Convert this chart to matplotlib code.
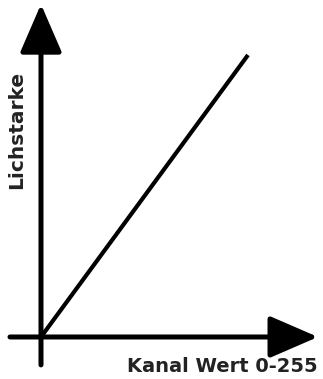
import matplotlib
matplotlib.use("Agg")
import matplotlib.pyplot as plt

# Kanal-Wert (0-255) gegen Lichtstaerke (%)
kanal = [0, 255]
lichtstaerke = [0, 100]

x_label = "Kanal Wert 0-255"
y_label = "Lichstarke"

fig = plt.figure(figsize=(3.23, 3.79), dpi=100)
ax = fig.add_axes([0, 0, 1, 1])
ax.set_xlim(-50.5, 347.4)
ax.set_ylim(-14.9, 119.5)
ax.axis("off")

# Achsenpfeile
pfeil = dict(arrowstyle="-|>,head_length=3.0,head_width=1.3", color="black",
             lw=3.6, mutation_scale=10, shrinkA=0, shrinkB=0)
ax.annotate("", xy=(0, 118.0), xytext=(0, -9.9), arrowprops=pfeil)
ax.annotate("", xy=(341.2, 0), xytext=(-38.2, 0), arrowprops=pfeil)

# Kennlinie
ax.plot(kanal, lichtstaerke, color="black", lw=3.0, solid_capstyle="butt")

ax.text(341.2, -12.4, x_label, ha="right", va="baseline", fontsize=14,
        fontweight="bold", family="DejaVu Sans", color="#222222")
ax.text(-30.2, 73.4, y_label, ha="center", va="center", rotation=90,
        fontsize=14.5, fontweight="bold", family="DejaVu Sans", color="#222222")

fig.savefig("out.png", dpi=100, facecolor="white")
